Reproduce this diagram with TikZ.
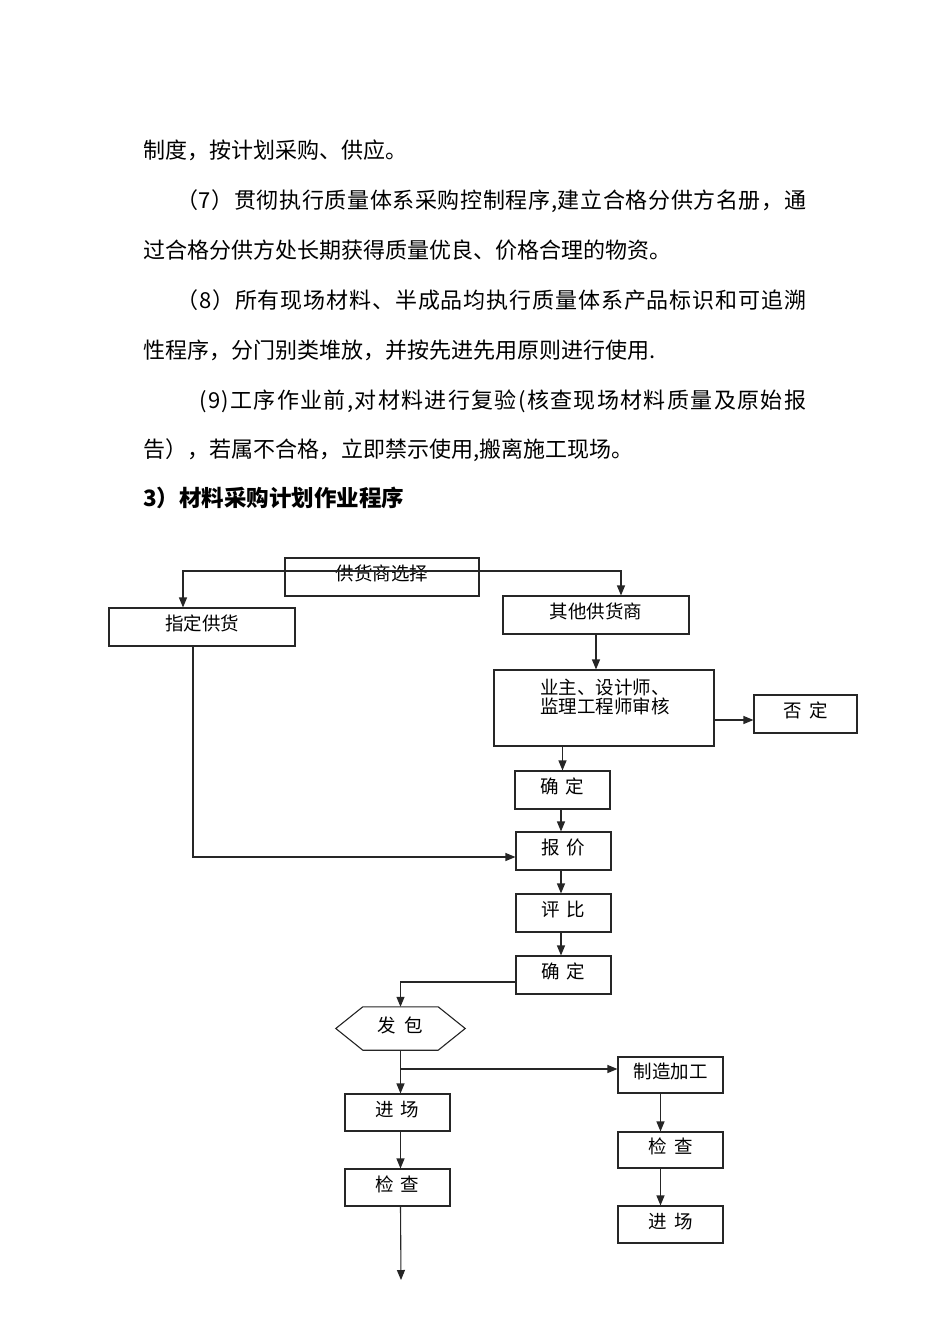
\documentclass[tikz,border=0pt]{standalone}
\usepackage{fontspec}
\setmainfont{Noto Sans CJK SC}
\usetikzlibrary{arrows.meta}
\ExplSyntaxOn
\NewDocumentCommand\spreadline{mm}{\hbox_to_wd:nn{#1}{\tl_map_inline:nn{#2}{##1\hskip 0pt plus 1fil}\unskip}}
\ExplSyntaxOff
\begin{document}
\begin{tikzpicture}[x=1pt,y=-1pt,
  box/.style={draw=black!85, line width=1.1pt, inner sep=0pt, font=\fontsize{18.5}{20}\selectfont, text height=9.8pt, text depth=2pt},
  lbl/.style={inner sep=0pt, font=\fontsize{18.5}{20}\selectfont, text height=9.8pt, text depth=2pt},
  arr/.style={draw=black!85, line width=1.1pt, -{Triangle[length=10pt,width=8pt]}},
  ln/.style={draw=black!85, line width=1.1pt},
  body/.style={anchor=west, inner sep=0pt, font=\fontsize{22}{26}\selectfont, text height=18pt, text depth=1.6pt}]
\useasboundingbox[fill=white] (0,0) rectangle (950,1344);

% body text
\node[body] (t1) at (143,150) {制度，按计划采购、供应。};
\node[body] (t2) at (176,200) {\spreadline{630pt}{（7）贯彻执行质量体系采购控制程序,建立合格分供方名册，通}};
\node[body] (t3) at (143,250) {过合格分供方处长期获得质量优良、价格合理的物资。};
\node[body] (t4) at (176,300) {\spreadline{630pt}{（8）所有现场材料、半成品均执行质量体系产品标识和可追溯}};
\node[body] (t5) at (143,350) {性程序，分门别类堆放，并按先进先用原则进行使用.};
\node[body] (t6) at (199,400) {\spreadline{607pt}{(9)工序作业前,对材料进行复验(核查现场材料质量及原始报}};
\node[body] (t7) at (143,449) {告），若属不合格，立即禁示使用,搬离施工现场。};
\node[body, font=\fontsize{22.5}{26}\selectfont\bfseries] (t8) at (143,498) {3）材料采购计划作业程序};

% flowchart boxes
\node[box, minimum width=194pt, minimum height=38pt] (sel) at (382,577) {供货商选择};
\node[box, minimum width=186pt, minimum height=38pt] (zd) at (202,627) {指定供货};
\node[box, minimum width=186pt, minimum height=38pt] (qt) at (596,615) {其他供货商};
\node[box, minimum width=220pt, minimum height=76pt] (sh) at (604,708) {};
\node[inner sep=0pt, align=center, font=\fontsize{18.5}{19}\selectfont] (shtxt) at (605,697) {业主、设计师、\\监理工程师审核};
\node[box, minimum width=103pt, minimum height=38pt] (fd) at (805.5,714) {否\hspace{7pt}定};
\node[box, minimum width=95pt, minimum height=38pt] (qd1) at (562.5,790) {确\hspace{7pt}定};
\node[box, minimum width=95pt, minimum height=38pt] (bj) at (563.5,851) {报\hspace{7pt}价};
\node[box, minimum width=95pt, minimum height=38pt] (pb) at (563.5,913) {评\hspace{7pt}比};
\node[box, minimum width=95pt, minimum height=38pt] (qd2) at (563.5,975) {确\hspace{7pt}定};
\node[lbl, minimum width=129pt, minimum height=43pt] (fb) at (400.5,1028.5) {发\hspace{9pt}包};
\draw[ln] (fb.west) -- ([xshift=27pt]fb.north west) -- ([xshift=-27pt]fb.north east) -- (fb.east) -- ([xshift=-27pt]fb.south east) -- ([xshift=27pt]fb.south west) -- cycle;
\node[box, minimum width=105pt, minimum height=37pt] (jc1) at (397.5,1112.5) {进\hspace{7pt}场};
\node[box, minimum width=105pt, minimum height=37pt] (jc2) at (397.5,1187.5) {检\hspace{7pt}查};
\node[box, minimum width=105pt, minimum height=36pt] (zz) at (670.5,1075) {制造加工};
\node[box, minimum width=105pt, minimum height=36pt] (jc3) at (670.5,1150) {检\hspace{7pt}查};
\node[box, minimum width=105pt, minimum height=37pt] (jc4) at (670.5,1224.5) {进\hspace{7pt}场};
\coordinate (end) at (401,1280);

% connectors
\draw[arr] ([yshift=6pt]sel.center) -| ([xshift=-19pt]zd.north);
\draw[arr] ([yshift=6pt]sel.center) -| ([xshift=25pt]qt.north);
\draw[arr] (qt.south) -- (qt.south |- sh.north);
\draw[arr] ([yshift=-12pt]sh.east) -- ([yshift=-12pt]sh.east -| fd.west);
\draw[arr] (qd1.north |- sh.south) -- (qd1.north);
\draw[arr] ([xshift=-1.5pt]qd1.south) -- ([xshift=-1.5pt]qd1.south |- bj.north);
\draw[arr] ([xshift=-9pt]zd.south) |- ([yshift=-6pt]bj.west);
\draw[arr] ([xshift=-2.5pt]bj.south) -- ([xshift=-2.5pt]pb.north);
\draw[arr] ([xshift=-2.5pt]pb.south) -- ([xshift=-2.5pt]qd2.north);
\draw[arr] ([yshift=-7pt]qd2.west) -| (fb.north);
\draw[arr] (fb.south) -- (fb.south |- jc1.north);
\draw[arr] (fb.south |- zz.west) ++(0,-6) coordinate (br) -- (br -| zz.west);
\draw[arr] (fb.south |- jc1.south) -- (fb.south |- jc2.north);
\draw[arr] (fb.south |- jc2.south) -- (end);
\draw[arr] ([xshift=-10pt]zz.south) -- ([xshift=-10pt]jc3.north);
\draw[arr] ([xshift=-10pt]jc3.south) -- ([xshift=-10pt]jc4.north);
\end{tikzpicture}
\end{document}
